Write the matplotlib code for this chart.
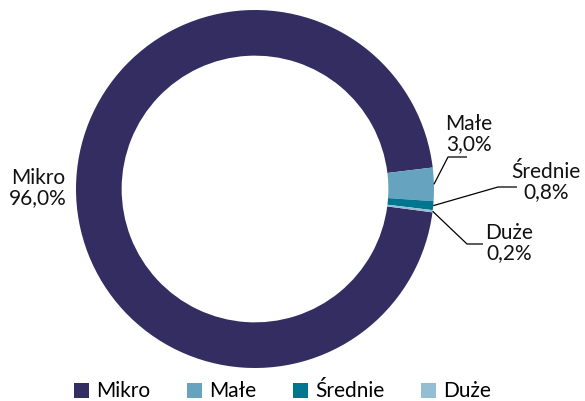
import numpy as np
import matplotlib.pyplot as plt
from matplotlib.patches import Patch

plt.rcParams['font.family'] = ['Lato', 'DejaVu Sans']

categories = ["Mikro", "Małe", "Średnie", "Duże"]
shares = [96.0, 3.0, 0.8, 0.2]
value_labels = ["96,0%", "3,0%", "0,8%", "0,2%"]
colors = ["#332D62", "#66A3BF", "#00758F", "#94BED4"]

W, H = 585, 401
CX, CY, R = 255, 189, 179


def px(x, y):
    """Convert pixel position (from top-left) to data coordinates."""
    return (x - CX) / R, (CY - y) / R


fig = plt.figure(figsize=(W / 100, H / 100), dpi=100)
ax = fig.add_axes([0, 0, 1, 1])

wedges, _ = ax.pie(shares, colors=colors, startangle=-7.5, counterclock=False,
                   radius=1.0, wedgeprops=dict(width=0.255, linewidth=0),
                   normalize=True)

# pie() resets the limits, so set them afterwards
ax.set_xlim(-CX / R, (W - CX) / R)
ax.set_ylim((CY - H) / R, CY / R)
ax.set_aspect("auto")
ax.axis("off")

# labels: (elbow, line end, text centre) in pixels; Mikro has no leader
label_pos = {
    "Mikro": (None, None, (38, 188)),
    "Małe": ((448, 157), (467, 157), (469, 134)),
    "Średnie": ((498, 187), (517, 187), (546, 182)),
    "Duże": ((467, 244), (483, 244), (509, 243)),
}

for w, cat, val in zip(wedges, categories, value_labels):
    elbow, end, txt = label_pos[cat]
    if elbow is not None:
        mid = np.deg2rad((w.theta1 + w.theta2) / 2)
        start = (np.cos(mid), np.sin(mid))
        e = px(*elbow)
        f = px(*end)
        ax.plot([start[0], e[0], f[0]], [start[1], e[1], f[1]],
                color="black", lw=0.9, solid_capstyle="butt")
    tx, ty = px(*txt)
    ax.text(tx, ty, f"{cat}\n{val}", ha="center", va="center",
            fontsize=15, linespacing=1.05, color="#111111")

handles = [Patch(facecolor=c, edgecolor="none") for c in colors]
fig.legend(handles, categories, loc="lower center", ncol=4, frameon=False,
           fontsize=15, bbox_to_anchor=(0.483, -0.048), handlelength=0.72,
           handleheight=0.72, handletextpad=0.35, columnspacing=1.75)

fig.savefig("out.png", dpi=100)
